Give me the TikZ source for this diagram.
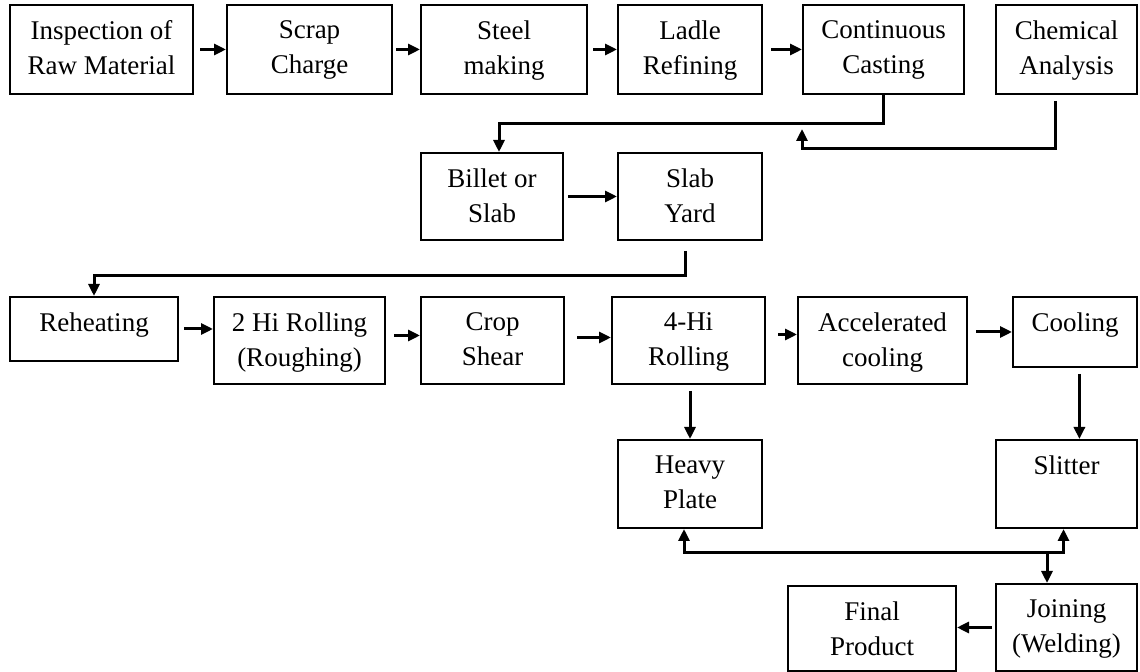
\documentclass[tikz,border=0pt]{standalone}
\usepackage{fontspec}
\setmainfont{Liberation Serif}
\usetikzlibrary{arrows.meta,fit}
\tikzset{
  boxst/.style={draw=black, line width=1pt, inner sep=0pt},
  txt/.style={inner sep=0pt, align=center, anchor=north, font=\fontsize{13.5pt}{17.5pt}\selectfont},
  conn/.style={line width=1.5pt, -{Triangle[length=6pt,width=5.5pt]}},
  conntwo/.style={line width=1.5pt, {Triangle[length=6pt,width=5.5pt]}-{Triangle[length=6pt,width=5.5pt]}},
}
\newcommand\procbox[6]{%
  \node[boxst, fit={(#2,#3) (#4,#5)}] (#1) {};
  \node[txt] (#1-t) at ([yshift=-8pt]#1.north) {#6};}
\begin{document}
\begin{tikzpicture}[x=0.5pt, y=-0.5pt]
\useasboundingbox (0,0) rectangle (1140,672);
% row 1
\procbox{insp}{10}{5}{193}{94}{Inspection of\\Raw Material}
\procbox{scrap}{227}{5}{392}{94}{Scrap\\Charge}
\procbox{steel}{421}{5}{587}{94}{Steel\\making}
\procbox{ladle}{618}{5}{762}{94}{Ladle\\Refining}
\procbox{cc}{803}{5}{964}{94}{Continuous\\Casting}
\procbox{chem}{996}{5}{1137}{94}{Chemical\\Analysis}
% row 2
\procbox{billet}{421}{153}{563}{240}{Billet or\\Slab}
\procbox{slab}{618}{153}{762}{240}{Slab\\Yard}
% row 3
\procbox{reheat}{10}{297}{178}{361}{Reheating}
\procbox{rolltwo}{214}{297}{385}{384}{2 Hi Rolling\\(Roughing)}
\procbox{crop}{421}{297}{564}{384}{Crop\\Shear}
\procbox{rollfour}{612}{297}{765}{384}{4-Hi\\Rolling}
\procbox{accel}{798}{297}{967}{384}{Accelerated\\cooling}
\procbox{cool}{1013}{297}{1137}{367}{Cooling}
% row 4
\procbox{heavy}{618}{440}{762}{528}{Heavy\\Plate}
\procbox{slitter}{996}{440}{1137}{528}{Slitter}
% row 5
\procbox{final}{788}{586}{956}{671}{Final\\Product}
\procbox{joining}{996}{584}{1137}{671}{Joining\\(Welding)}
% connectors row 1
\draw[conn] ([xshift=3pt]insp.east) -- (scrap.west);
\draw[conn] ([xshift=1.5pt]scrap.east) -- (steel.west);
\draw[conn] ([xshift=2.5pt]steel.east) -- (ladle.west);
\draw[conn] ([xshift=4pt]ladle.east) -- (cc.west);
% casting to billet
\draw[conn] (cc.south) -- ++(0,29) -| ([xshift=3.5pt]billet.north);
% chemical analysis feedback
\coordinate (chemout) at ([xshift=-5.5pt,yshift=-3pt]chem.south);
\draw[conn] (chemout) -- ++(0,48) -| ([yshift=-17pt]cc.south west);
% billet to slab yard
\draw[conn] ([xshift=2pt]billet.east) -- (slab.west);
% slab yard to reheating
\draw[conn] ([xshift=-2.5pt,yshift=-5pt]slab.south) -- ++(0,25) -| (reheat.north);
% row 3
\draw[conn] ([xshift=2.5pt]reheat.east) -- (reheat.east -| rolltwo.west);
\draw[conn] ([xshift=4pt,yshift=2.5pt]rolltwo.east) -- ([yshift=2.5pt]crop.west);
\draw[conn] ([xshift=6pt,yshift=1.5pt]crop.east) -- ([yshift=1.5pt]rollfour.west);
\draw[conn] ([xshift=6pt,yshift=3pt]rollfour.east) -- ([yshift=3pt]accel.west);
\draw[conn] ([xshift=4pt]accel.east |- cool.east) -- (cool.west);
% down arrows
\draw[conn] ([yshift=-3pt]rollfour.south -| heavy.north) -- (heavy.north);
\coordinate (coolout) at ([xshift=2.2pt,yshift=-3pt]cool.south);
\draw[conn] (coolout) -- (coolout |- slitter.north);
% bidirectional link
\draw[conntwo] ([xshift=-3pt]heavy.south) -- ++(0,24) -| ([xshift=-1.5pt]slitter.south);
\coordinate (split) at (1047,552);
\draw[conn] (split) -- (split |- joining.north);
% joining to final
\draw[conn] ([xshift=-1.5pt]joining.west) -- (joining.west -| final.east);
\end{tikzpicture}
\end{document}
